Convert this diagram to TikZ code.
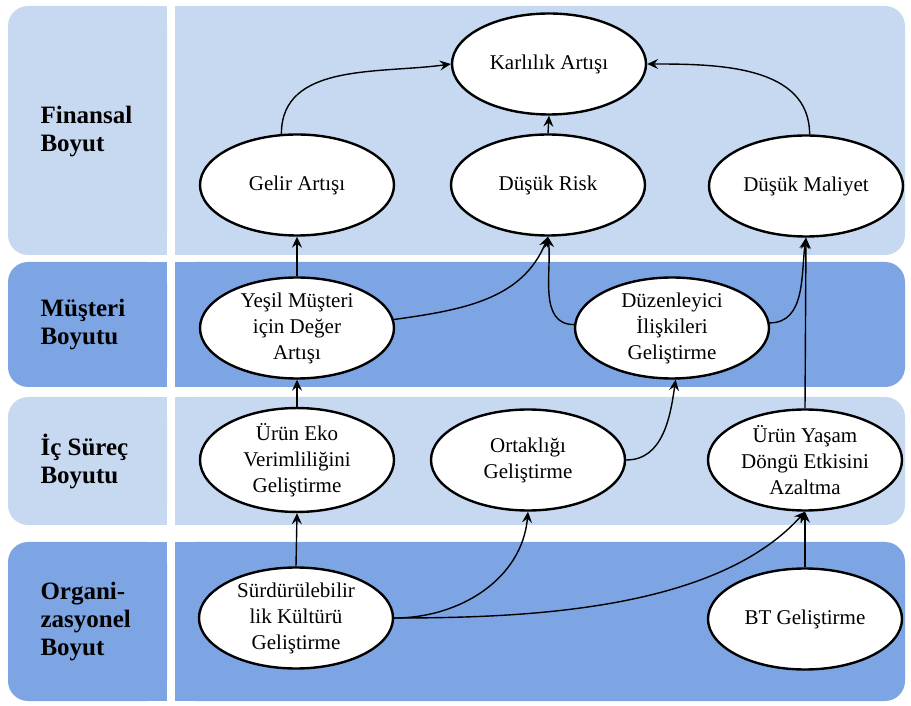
\documentclass[tikz,border=0pt]{standalone}
\usepackage{fontspec}
\setmainfont{Liberation Serif}
\usetikzlibrary{shapes.geometric,arrows.meta}
\definecolor{bandlight}{RGB}{198,217,241}
\definecolor{banddark}{RGB}{125,165,227}
\begin{document}
\begin{tikzpicture}[x=1pt,y=1pt,
        goal/.style={ellipse, draw, line width=2.4pt, fill=white, minimum width=194pt,
            minimum height=101pt, inner sep=0pt, align=center,
            font=\fontsize{21}{26}\selectfont},
        boyut/.style={anchor=west, align=left, font=\bfseries\fontsize{25}{28}\selectfont},
        link/.style={line width=1.4pt, -{Stealth[length=11pt,width=10pt,inset=4pt]}}]
        \useasboundingbox (0,0) rectangle (911,705);
        % bands
        \fill [bandlight, rounded corners=20] (8,699) rectangle (167,450);
        \fill [bandlight] (100,699) rectangle (167,450);
        \fill [bandlight, rounded corners=20] (175,699) rectangle (905,450);
        \fill [bandlight] (175,699) rectangle (300,450);
        \fill [banddark, rounded corners=20] (8,443) rectangle (167,318);
        \fill [banddark] (100,443) rectangle (167,318);
        \fill [banddark, rounded corners=20] (175,443) rectangle (905,318);
        \fill [banddark] (175,443) rectangle (300,318);
        \fill [bandlight, rounded corners=20] (8,308) rectangle (167,180);
        \fill [bandlight] (100,308) rectangle (167,180);
        \fill [bandlight, rounded corners=20] (175,308) rectangle (905,180);
        \fill [bandlight] (175,308) rectangle (300,180);
        \fill [banddark, rounded corners=20] (8,163) rectangle (167,4);
        \fill [banddark] (100,163) rectangle (167,4);
        \fill [banddark, rounded corners=20] (175,163) rectangle (905,4);
        \fill [banddark] (175,163) rectangle (300,4);
        % band labels
        \node [boyut] (finansal) at (37,573) {Finansal\\Boyut};
        \node [boyut] (musteri) at (37,380) {Müşteri\\Boyutu};
        \node [boyut] (icsurec) at (37,244) {İç Süreç\\Boyutu};
        \node [boyut] (organ) at (37,83) {Organi-\\zasyonel\\Boyut};
        % goals
        \node [goal] (karlilik) at (549,641) {Karlılık Artışı};
        \node [goal] (gelir) at (297,520) {Gelir Artışı};
        \node [goal] (risk) at (548,520) {Düşük Risk};
        \node [goal] (maliyet) at (806,519) {Düşük Maliyet};
        \node [goal] (yesil) at (297,377) {Yeşil Müşteri\\için Değer\\Artışı};
        \node [goal] (duzen) at (672,377) {Düzenleyici\\İlişkileri\\Geliştirme};
        \node [goal] (eko) at (297,245) {Ürün Eko\\Verimliliğini\\Geliştirme};
        \node [goal] (ortak) at (528,245) {Ortaklığı\\Geliştirme};
        \node [goal] (yasam) at (805,245) {Ürün Yaşam\\Döngü Etkisini\\Azaltma};
        \node [goal] (surdur) at (296,87) {Sürdürülebilir\\lik Kültürü\\Geliştirme};
        \node [goal] (bt) at (805,86) {BT Geliştirme};
        % links
        \draw [link] (gelir.107) to [out=90, in=188] (karlilik.west);
        \draw [link] (risk.north) -- (karlilik.south);
        \draw [link] (maliyet.86) to [out=90, in=0] (karlilik.east);
        \draw [link] (yesil.north) -- (gelir.south);
        \draw [link] (yesil.5) to [out=8, in=-112] (risk.south);
        \draw [link] (duzen.178) to [out=180, in=-84] (risk.south);
        \draw [link] (duzen.3) to [out=0, in=-98] (maliyet.south);
        \draw [link] (yasam.north) -- (maliyet.south);
        \draw [link] (eko.north) -- (yesil.south);
        \draw [link] (ortak.east) to [out=0, in=-98] (duzen.-86);
        \draw [link] (surdur.north) -- (eko.south);
        \draw [link] (surdur.east) to [out=0, in=-95] (ortak.south);
        \draw [link] (surdur.east) to [out=0, in=-132, looseness=0.8] (yasam.south);
        \draw [link] (bt.north) -- (yasam.south);
\end{tikzpicture}
\end{document}
